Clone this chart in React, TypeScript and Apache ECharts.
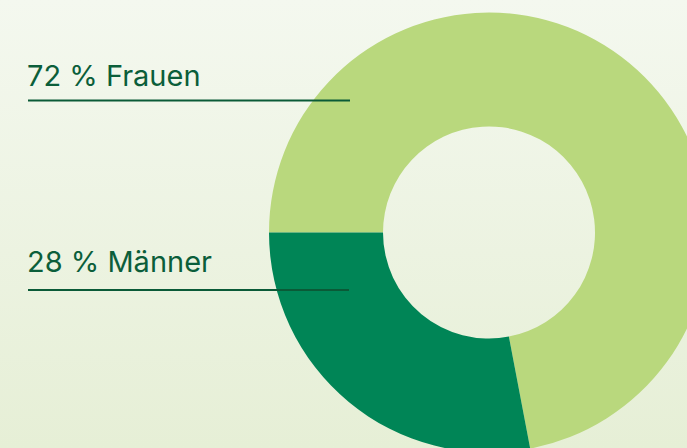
import React, { useEffect, useRef } from "react";
import * as echarts from "echarts";

const categories = ["Frauen", "Männer"];
const values = [72, 28];
const colors = ["#b9d87d", "#008556"];

export default function App() {
  const ref = useRef<HTMLDivElement>(null);
  useEffect(() => {
    if (!ref.current) return;
    const chart = echarts.init(ref.current, null, { renderer: "svg" });
    const labelTop = [61, 247];
    const lineY = [100.5, 290];
    const lineX2 = [350, 349];
    const graphics: any[] = [];
    categories.forEach((c, i) => {
      graphics.push({
        type: "text",
        x: 27,
        y: labelTop[i],
        z: 100,
        style: {
          text: `${values[i]} % ${c}`,
          fill: "#0b5e3a",
          font: "400 29px Inter",
          verticalAlign: "top",
        },
      });
      graphics.push({
        type: "line",
        z: 100,
        shape: { x1: 28, y1: lineY[i], x2: lineX2[i], y2: lineY[i] },
        style: { stroke: "#0a5a37", lineWidth: 2 },
      });
    });
    chart.setOption({
      animation: false,
      backgroundColor: new echarts.graphic.LinearGradient(0, 0, 0, 1, [
        { offset: 0, color: "#f4f8ef" },
        { offset: 1, color: "#e6efd6" },
      ]),
      series: [
        {
          type: "pie",
          center: [489, 232.5],
          radius: [106, 220],
          startAngle: 180,
          clockwise: true,
          label: { show: false },
          labelLine: { show: false },
          emphasis: { disabled: true },
          itemStyle: { borderWidth: 0 },
          data: categories.map((c, i) => ({
            name: c,
            value: values[i],
            itemStyle: { color: colors[i] },
          })),
        },
      ],
      graphic: graphics,
    });
    return () => chart.dispose();
  }, []);
  return (
    <div
      ref={ref}
      style={{ position: "fixed", left: 0, top: 0, width: 687, height: 448 }}
    />
  );
}
